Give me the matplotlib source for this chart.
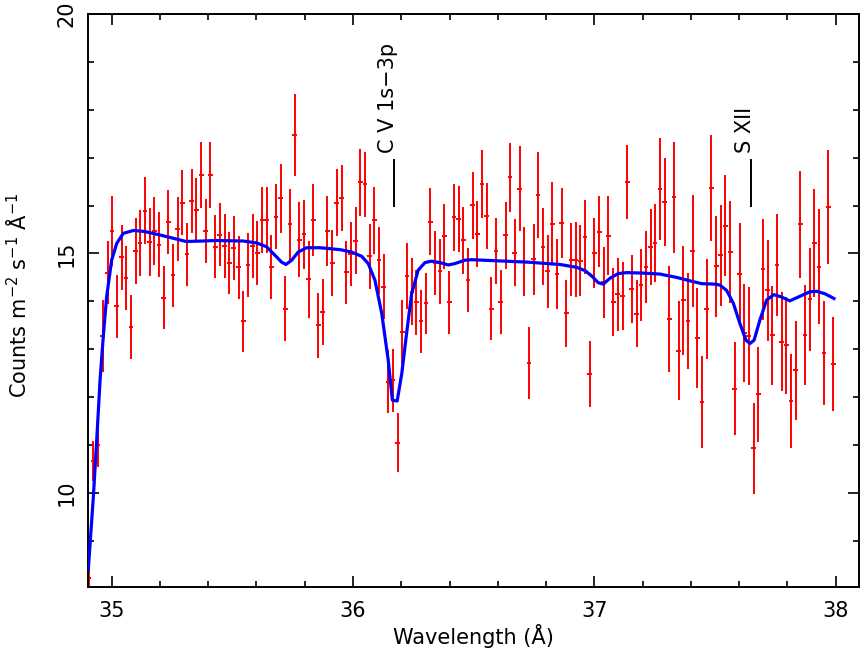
import matplotlib
matplotlib.use("Agg")
import matplotlib.pyplot as plt
from matplotlib.ticker import MultipleLocator

plt.rcParams['font.family'] = ['DejaVu Sans']
plt.rcParams['mathtext.fontset'] = 'dejavusans'

# binned spectrum (bin centres in Angstrom)
wave = [
    34.905, 34.924, 34.944, 34.963, 34.983, 35.002, 35.021, 35.041, 35.060, 35.080,
    35.099, 35.118, 35.138, 35.157, 35.177, 35.196, 35.215, 35.235, 35.254, 35.274,
    35.293, 35.312, 35.332, 35.351, 35.371, 35.390, 35.409, 35.429, 35.448, 35.468,
    35.487, 35.506, 35.526, 35.545, 35.565, 35.584, 35.603, 35.623, 35.642, 35.662,
    35.681, 35.700, 35.720, 35.739, 35.759, 35.778, 35.797, 35.817, 35.836, 35.856,
    35.875, 35.894, 35.914, 35.933, 35.953, 35.972, 35.991, 36.011, 36.030, 36.050,
    36.069, 36.088, 36.108, 36.127, 36.147, 36.166, 36.185, 36.205, 36.224, 36.244,
    36.263, 36.282, 36.302, 36.321, 36.341, 36.360, 36.379, 36.399, 36.418, 36.438,
    36.457, 36.476, 36.496, 36.515, 36.535, 36.554, 36.573, 36.593, 36.612, 36.632,
    36.651, 36.670, 36.690, 36.709, 36.729, 36.748, 36.767, 36.787, 36.806, 36.826,
    36.845, 36.864, 36.884, 36.903, 36.923, 36.942, 36.961, 36.981, 37.000, 37.020,
    37.039, 37.058, 37.078, 37.097, 37.117, 37.136, 37.155, 37.175, 37.194, 37.214,
    37.233, 37.252, 37.272, 37.291, 37.311, 37.330, 37.349, 37.369, 37.388, 37.408,
    37.427, 37.446, 37.466, 37.485, 37.505, 37.524, 37.543, 37.563, 37.582, 37.602,
    37.621, 37.640, 37.660, 37.679, 37.699, 37.718, 37.737, 37.757, 37.776, 37.796,
    37.815, 37.834, 37.854, 37.873, 37.893, 37.912, 37.931, 37.951, 37.970, 37.990,
]
flux = [
    8.22, 10.66, 11.01, 13.27, 14.60, 15.47, 13.90, 14.92, 14.48, 13.46,
    15.05, 15.21, 15.89, 15.23, 15.47, 15.18, 14.08, 15.66, 14.54, 15.51,
    16.06, 14.98, 16.10, 15.91, 16.63, 15.47, 16.63, 15.14, 15.39, 15.16,
    14.80, 15.11, 14.71, 13.58, 14.76, 15.16, 15.01, 15.70, 15.70, 14.71,
    15.77, 16.15, 13.85, 15.61, 17.47, 15.29, 15.40, 14.46, 15.70, 13.50,
    13.77, 15.47, 14.80, 16.06, 16.16, 14.61, 14.99, 15.27, 16.49, 16.44,
    14.94, 15.69, 14.86, 14.31, 12.32, 12.35, 11.05, 13.36, 14.53, 14.20,
    13.98, 13.58, 13.96, 15.66, 14.80, 14.63, 15.36, 13.98, 15.76, 15.72,
    15.28, 14.44, 16.01, 15.40, 16.45, 15.78, 13.85, 15.05, 13.99, 15.38,
    16.59, 15.02, 16.35, 14.83, 12.72, 14.88, 16.22, 15.14, 14.63, 15.62,
    14.58, 15.64, 13.75, 14.87, 14.87, 14.85, 15.34, 12.49, 15.01, 15.45,
    14.40, 15.37, 13.99, 14.15, 14.12, 16.49, 14.26, 13.74, 14.34, 14.71,
    15.13, 15.22, 16.35, 16.08, 13.63, 16.17, 12.97, 14.02, 13.59, 15.06,
    13.24, 11.89, 13.84, 16.37, 14.73, 14.96, 15.58, 15.03, 12.18, 14.57,
    13.34, 13.28, 10.93, 12.06, 14.67, 14.23, 13.29, 14.76, 13.16, 13.08,
    11.92, 12.56, 15.61, 13.30, 14.04, 15.22, 14.72, 12.92, 15.97, 12.69,
]
flux_err = [
    0.48, 0.42, 0.47, 0.75, 0.66, 0.73, 0.66, 0.68, 0.67, 0.67,
    0.69, 0.69, 0.70, 0.71, 0.71, 0.68, 0.66, 0.67, 0.65, 0.66,
    0.68, 0.65, 0.67, 0.66, 0.69, 0.67, 0.69, 0.66, 0.66, 0.67,
    0.65, 0.67, 0.66, 0.63, 0.66, 0.67, 0.67, 0.69, 0.69, 0.67,
    0.68, 0.72, 0.67, 0.74, 0.86, 0.78, 0.72, 0.80, 0.75, 0.68,
    0.69, 0.74, 0.68, 0.70, 0.69, 0.66, 0.66, 0.69, 0.70, 0.68,
    0.68, 0.70, 0.70, 0.68, 0.66, 0.65, 0.61, 0.67, 0.68, 0.70,
    0.68, 0.66, 0.64, 0.70, 0.67, 0.68, 0.68, 0.66, 0.70, 0.68,
    0.70, 0.67, 0.70, 0.69, 0.71, 0.69, 0.66, 0.69, 0.67, 0.70,
    0.72, 0.69, 0.89, 0.72, 0.75, 0.74, 0.89, 0.80, 0.76, 0.87,
    0.73, 0.73, 0.70, 0.76, 0.78, 0.74, 0.77, 0.69, 0.74, 0.74,
    0.74, 0.82, 0.71, 0.76, 0.71, 0.77, 0.71, 0.70, 0.75, 0.75,
    0.79, 0.81, 1.06, 0.92, 1.10, 1.16, 1.03, 1.14, 1.00, 1.17,
    1.04, 0.96, 1.04, 1.11, 1.05, 1.06, 1.05, 1.06, 0.98, 1.06,
    1.02, 1.02, 0.95, 0.99, 1.05, 1.05, 1.03, 1.07, 1.04, 1.02,
    0.99, 1.03, 1.12, 1.05, 1.07, 1.13, 1.20, 1.09, 1.20, 0.98,
]
half_bin = 0.0097

# best-fit model curve
model_wave = [
    34.903, 34.924, 34.938, 34.952, 34.965, 34.979, 35.000, 35.021, 35.048, 35.090,
    35.135, 35.197, 35.253, 35.308, 35.377, 35.432, 35.545, 35.601, 35.642, 35.677,
    35.704, 35.722, 35.746, 35.773, 35.808, 35.863, 35.946, 35.994, 36.036, 36.063,
    36.091, 36.119, 36.146, 36.163, 36.183, 36.202, 36.222, 36.243, 36.270, 36.298,
    36.326, 36.360, 36.395, 36.423, 36.464, 36.492, 36.581, 36.720, 36.858, 36.927,
    36.962, 36.989, 37.016, 37.037, 37.064, 37.099, 37.134, 37.203, 37.272, 37.341,
    37.403, 37.445, 37.499, 37.520, 37.548, 37.576, 37.603, 37.628, 37.645, 37.662,
    37.686, 37.714, 37.744, 37.776, 37.810, 37.845, 37.893, 37.921, 37.955, 37.993,
]
model_flux = [
    8.39, 9.91, 11.10, 12.36, 13.25, 14.09, 14.86, 15.21, 15.42, 15.48,
    15.46, 15.39, 15.32, 15.25, 15.26, 15.27, 15.26, 15.22, 15.14, 14.96,
    14.82, 14.77, 14.86, 15.03, 15.12, 15.12, 15.08, 15.03, 14.94, 14.79,
    14.44, 13.75, 12.77, 11.94, 11.92, 12.49, 13.33, 14.16, 14.65, 14.81,
    14.84, 14.81, 14.76, 14.79, 14.86, 14.87, 14.85, 14.82, 14.77, 14.71,
    14.64, 14.53, 14.39, 14.36, 14.48, 14.58, 14.60, 14.59, 14.57, 14.50,
    14.42, 14.37, 14.36, 14.34, 14.23, 13.96, 13.54, 13.19, 13.12, 13.19,
    13.61, 14.03, 14.14, 14.09, 14.01, 14.09, 14.20, 14.21, 14.16, 14.06,
]

# line identifications
line_labels = ["C V 1s\u22123p", "S XII"]
line_waves = [36.170, 37.648]


fig = plt.figure(figsize=(8.62, 6.54), dpi=100)
ax = fig.add_axes([0.1021, 0.1020, 0.8948, 0.8766])

ax.errorbar(wave, flux, yerr=flux_err, xerr=half_bin, fmt='none',
            ecolor='#ff0000', elinewidth=1.4, capsize=0, zorder=2)
ax.plot(model_wave, model_flux, color='#0000ff', lw=2.3, zorder=3)

for lab, lw_ in zip(line_labels, line_waves):
    ax.plot([lw_, lw_], [16.0, 16.95], color='black', lw=1.4)
    ax.text(lw_, 17.09, lab, rotation=90, rotation_mode='anchor',
            ha='left', va='baseline', fontsize=15)

ax.set_xlim(34.902, 38.098)
ax.set_ylim(8.03, 20)
ax.xaxis.set_major_locator(MultipleLocator(1))
ax.xaxis.set_minor_locator(MultipleLocator(0.2))
ax.yaxis.set_major_locator(MultipleLocator(5))
ax.yaxis.set_minor_locator(MultipleLocator(1))

ax.tick_params(which='both', direction='in', top=True, right=True, width=1.2,
               labelsize=15)
ax.tick_params(which='major', length=8)
ax.tick_params(which='minor', length=4)
ax.tick_params(axis='x', pad=10)
ax.tick_params(axis='y', pad=8.5, labelrotation=90)
for lab in ax.get_yticklabels():
    lab.set_va('center')

for sp in ax.spines.values():
    sp.set_linewidth(1.4)

ax.set_xlabel("Wavelength (\u00c5)", fontsize=15, labelpad=2)
ax.set_ylabel(r"Counts m$^{-2}$ s$^{-1}$ $\mathrm{\AA}^{-1}$", fontsize=15)
ax.yaxis.set_label_coords(-0.075, 0.51)

fig.savefig("out.png", dpi=100)
